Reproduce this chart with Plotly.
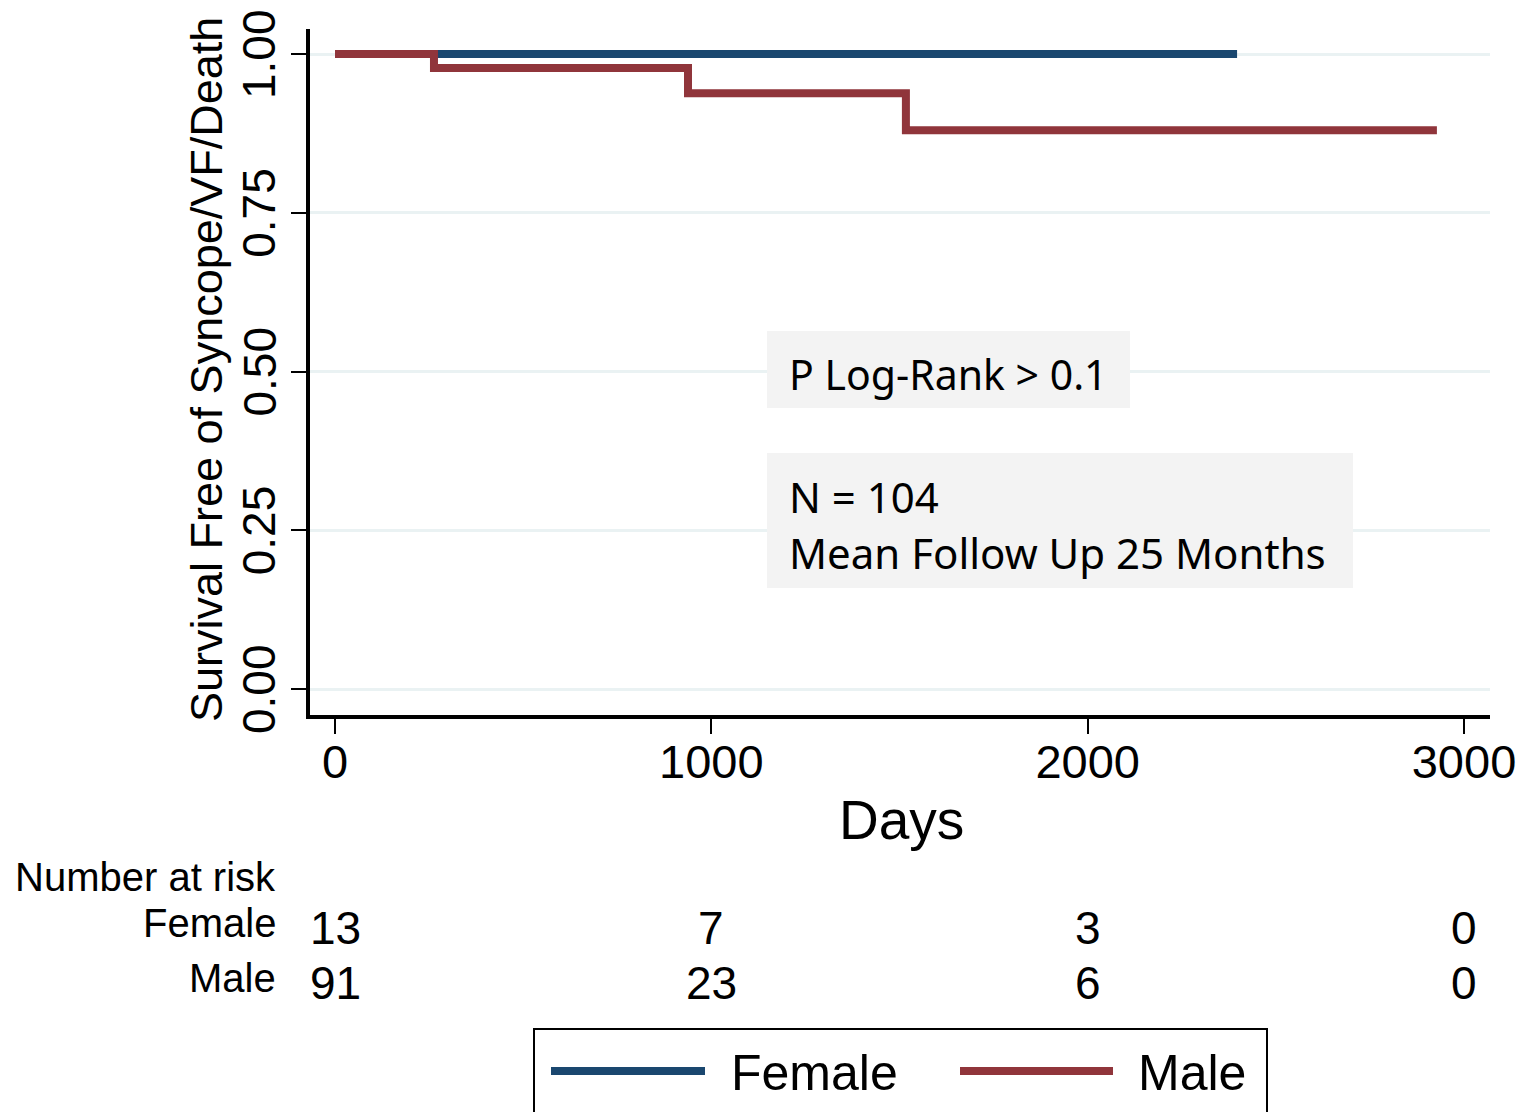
import plotly.graph_objects as go

# ---- data ----
female_days = [0, 2397]
female_surv = [1.0, 1.0]
male_days = [0, 263, 938, 1517, 2928]
male_surv = [1.0, 0.978, 0.938, 0.880, 0.880]

risk_times = [0, 1000, 2000, 3000]
risk_female = [13, 7, 3, 0]
risk_male = [91, 23, 6, 0]

x_ticks = [0, 1000, 2000, 3000]
y_ticks = [0, 0.25, 0.5, 0.75, 1.0]
y_tick_labels = ["0.00", "0.25", "0.50", "0.75", "1.00"]

BLUE = "#1a476f"
RED = "#90353b"
FONT = "Liberation Sans, Arial, sans-serif"
BOXFONT = "Noto Sans, Open Sans, sans-serif"

# page offset (browser default body margin)
OFF = 8
W, H = 1532 - OFF, 1112 - OFF
# plot area in page pixels
L, R, T, B = 310, 1490, 29, 715


def px(xp):
    return (xp - L) / (R - L)


def py(yp):
    return (B - yp) / (B - T)


fig = go.Figure()
fig.add_trace(go.Scatter(x=female_days, y=female_surv, mode="lines", name="Female",
                         line=dict(color=BLUE, width=8, shape="hv"), showlegend=False))
fig.add_trace(go.Scatter(x=male_days, y=male_surv, mode="lines", name="Male",
                         line=dict(color=RED, width=8, shape="hv"), showlegend=False))

shapes = []
annotations = []

# y tick labels (rotated), anchored to the y axis values
for v, lab in zip(y_ticks, y_tick_labels):
    annotations.append(dict(text=lab, xref="paper", yref="y", x=px(259), y=v,
                            xanchor="center", yanchor="middle", textangle=-90, showarrow=False,
                            font=dict(family=FONT, size=46, color="black")))

# info boxes
shapes.append(dict(type="rect", xref="paper", yref="paper", x0=px(767), x1=px(1130),
                   y0=py(408), y1=py(331), fillcolor="#f3f3f3", line=dict(width=0), layer="above"))
shapes.append(dict(type="rect", xref="paper", yref="paper", x0=px(767), x1=px(1353),
                   y0=py(588), y1=py(453), fillcolor="#f3f3f3", line=dict(width=0), layer="above"))
annotations.append(dict(text="P Log-Rank &gt; 0.1", xref="paper", yref="paper", x=px(787), y=py(374),
                        xanchor="left", yanchor="middle", showarrow=False,
                        font=dict(family=BOXFONT, size=41, color="black")))
annotations.append(dict(text="N = 104", xref="paper", yref="paper", x=px(787), y=py(496),
                        xanchor="left", yanchor="middle", showarrow=False,
                        font=dict(family=BOXFONT, size=42, color="black")))
annotations.append(dict(text="Mean Follow Up 25 Months", xref="paper", yref="paper", x=px(787), y=py(552),
                        xanchor="left", yanchor="middle", showarrow=False,
                        font=dict(family=BOXFONT, size=42, color="black")))

# y axis title
annotations.append(dict(text="Survival Free of Syncope/VF/Death", xref="paper", yref="paper",
                        x=px(206), y=py(370), xanchor="center", yanchor="middle", textangle=-90,
                        showarrow=False, font=dict(family=FONT, size=45, color="black")))
# x axis title
annotations.append(dict(text="Days", xref="paper", yref="paper", x=px(901), y=py(820),
                        xanchor="center", yanchor="middle", showarrow=False,
                        font=dict(family=FONT, size=55, color="black")))

# number at risk table
annotations.append(dict(text="Number at risk", xref="paper", yref="paper", x=px(278), y=py(877),
                        xanchor="right", yanchor="middle", showarrow=False,
                        font=dict(family=FONT, size=40, color="black")))
annotations.append(dict(text="Female", xref="paper", yref="paper", x=px(278), y=py(923),
                        xanchor="right", yanchor="middle", showarrow=False,
                        font=dict(family=FONT, size=40, color="black")))
annotations.append(dict(text="Male", xref="paper", yref="paper", x=px(278), y=py(978),
                        xanchor="right", yanchor="middle", showarrow=False,
                        font=dict(family=FONT, size=40, color="black")))
for t, f, m in zip(risk_times, risk_female, risk_male):
    annotations.append(dict(text=str(f), xref="x", yref="paper", x=t, y=py(928),
                            xanchor="center", yanchor="middle", showarrow=False,
                            font=dict(family=FONT, size=46, color="black")))
    annotations.append(dict(text=str(m), xref="x", yref="paper", x=t, y=py(983),
                            xanchor="center", yanchor="middle", showarrow=False,
                            font=dict(family=FONT, size=46, color="black")))

# custom legend
shapes.append(dict(type="rect", xref="paper", yref="paper", x0=px(534), x1=px(1267),
                   y0=py(1125), y1=py(1029), fillcolor="white", line=dict(color="black", width=2)))
shapes.append(dict(type="line", xref="paper", yref="paper", x0=px(551), x1=px(705),
                   y0=py(1071), y1=py(1071), line=dict(color=BLUE, width=8)))
shapes.append(dict(type="line", xref="paper", yref="paper", x0=px(960), x1=px(1113),
                   y0=py(1071), y1=py(1071), line=dict(color=RED, width=8)))
annotations.append(dict(text="Female", xref="paper", yref="paper", x=px(729), y=py(1073),
                        xanchor="left", yanchor="middle", showarrow=False,
                        font=dict(family=FONT, size=50, color="black")))
annotations.append(dict(text="Male", xref="paper", yref="paper", x=px(1136), y=py(1073),
                        xanchor="left", yanchor="middle", showarrow=False,
                        font=dict(family=FONT, size=50, color="black")))

x0_val = -25 / ((1464 - 335) / 3000)
x1_val = (R - 335) / ((1464 - 335) / 3000)
y_per = 689 - 54
y0_val = -(B - 689) / y_per
y1_val = (689 - T) / y_per

fig.update_layout(
    width=W, height=H,
    margin=dict(l=L - OFF, r=1532 - R, t=T - OFF, b=1112 - B, pad=0),
    paper_bgcolor="white", plot_bgcolor="white",
    showlegend=False,
    font=dict(family=FONT, color="black"),
    xaxis=dict(range=[x0_val, x1_val], tickvals=x_ticks, ticktext=[str(v) for v in x_ticks],
               showgrid=False, zeroline=False, showline=True, linecolor="black", linewidth=4,
               ticks="outside", ticklen=15, tickwidth=2, tickcolor="black", automargin=False,
               ticklabeloverflow="allow",
               tickfont=dict(family=FONT, size=47, color="black"), ticklabelstandoff=-12),
    yaxis=dict(range=[y0_val, y1_val], tickvals=y_ticks, showticklabels=False,
               showgrid=True, gridcolor="#eaf2f3", gridwidth=3, zeroline=False,
               showline=True, linecolor="black", linewidth=4, automargin=False,
               ticks="outside", ticklen=15, tickwidth=2, tickcolor="black"),
    shapes=shapes,
    annotations=annotations,
)

fig.write_html("out.html")
